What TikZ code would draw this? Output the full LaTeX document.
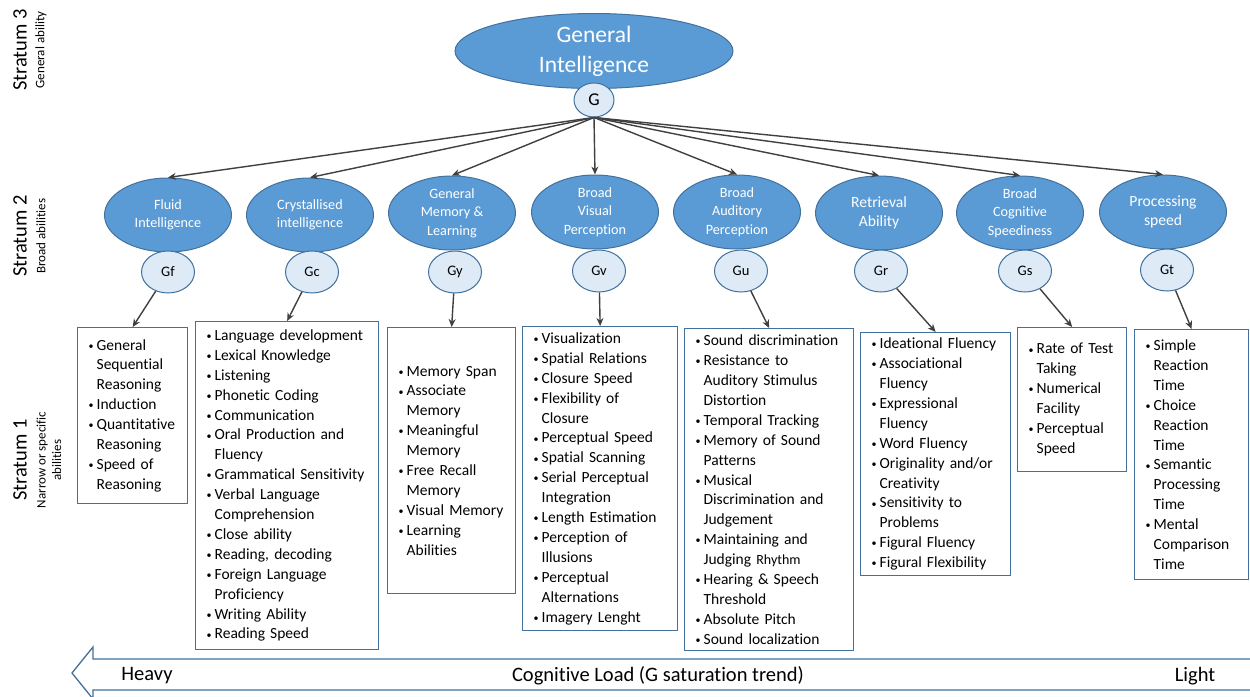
\documentclass[tikz,border=0pt]{standalone}
\usepackage{fontspec}
\setmainfont{Carlito}[Ligatures=NoCommon]
\usetikzlibrary{arrows.meta,shapes.geometric}
\definecolor{ellfill}{HTML}{5B9BD5}
\definecolor{bord}{HTML}{41719C}
\definecolor{circfill}{HTML}{DEEBF7}
\definecolor{arr}{HTML}{404040}
\newcommand\bi[1]{\makebox[8pt][l]{\raisebox{0.8pt}{\fontsize{10}{10}\selectfont\textbullet}}#1}
\newcommand\ct[1]{\hspace*{8pt}#1}
\tikzset{
  bigell/.style={ellipse, fill=ellfill, draw=bord, line width=1pt, minimum width=278pt, minimum height=75pt, inner sep=0pt, text=white, align=center, font=\fontsize{23.5}{30}\selectfont},
  ell/.style={ellipse, fill=ellfill, draw=bord, line width=1pt, minimum width=127pt, minimum height=74pt, inner sep=0pt, text=white, align=center, font=\fontsize{14.2}{18.3}\selectfont},
  ellbig/.style={ell, font=\fontsize{15.6}{19.5}\selectfont},
  circ/.style={ellipse, fill=circfill, draw=bord, line width=1pt, minimum width=53pt, minimum height=42pt, inner sep=0pt, font=\fontsize{14.5}{16}\selectfont},
  gcirc/.style={circ, minimum width=40pt, minimum height=34pt, font=\fontsize{18}{20}\selectfont},
  conn/.style={draw=arr, line width=1.4pt, -{Stealth[length=8pt,width=7pt]}},
  listbox/.style={draw=bord, line width=1.3pt, fill=white, anchor=north west, inner xsep=11pt, inner ysep=0pt, align=left, font=\fontsize{15.5}{19.9}\selectfont},
  strat/.style={rotate=90, inner sep=0pt, font=\fontsize{20.5}{22}\selectfont},
  stratsub/.style={rotate=90, inner sep=0pt, align=center, font=\fontsize{13}{15.5}\selectfont},
  loadtxt/.style={inner sep=0pt, font=\fontsize{20.5}{22}\selectfont}
}
\begin{document}
\begin{tikzpicture}[x=1pt,y=-1pt]
\path[use as bounding box] (0,0) rectangle (1250,696);
\clip (0,0) rectangle (1250,696);

% Stratum labels
\node[strat] (s3) at (20,50) {Stratum 3};
\node[stratsub] (s3b) at (41,50) {General ability};
\node[strat] (s2) at (20,236) {Stratum 2};
\node[stratsub] (s2b) at (41,236) {Broad abilities};
\node[strat] (s1) at (20,460) {Stratum 1};
\node[stratsub] (s1b) at (49,460) {Narrow or specific\\abilities};

% General intelligence
\node[bigell] (GI) at (594,51) {General\\Intelligence};
\node[gcirc] (G) at (594,100) {G};

% Broad abilities
\node[ell] (e1) at (168,215) {Fluid\\Intelligence};
\node[ell] (e2) at (310,215) {Crystallised\\intelligence};
\node[ell] (e3) at (452,213) {General\\Memory \&\\Learning};
\node[ell] (e4) at (595,212) {Broad\\Visual\\Perception};
\node[ell] (e5) at (737,212) {Broad\\Auditory\\Perception};
\node[ellbig] (e6) at (879,213) {Retrieval\\Ability};
\node[ell] (e7) at (1020,213) {Broad\\Cognitive\\Speediness};
\node[ellbig] (e8) at (1163,212) {Processing\\speed};

\node[circ] (c1) at (168,272) {Gf};
\node[circ] (c2) at (312,272) {Gc};
\node[circ] (c3) at (455,272) {Gy};
\node[circ] (c4) at (599,271) {Gv};
\node[circ] (c5) at (741,271) {Gu};
\node[circ] (c6) at (881,271) {Gr};
\node[circ] (c7) at (1025,271) {Gs};
\node[circ] (c8) at (1167,270) {Gt};

% connectors from G
\foreach \e in {e1,e2,e3,e4,e5,e6,e7,e8}{
  \draw[conn] (G.south) -- (\e.north);
}

% Narrow abilities boxes
\node[listbox, text width=88pt, minimum width=110pt, minimum height=176pt] (b1) at (77,327)
 {\bi{General}\\\ct{Sequential}\\\ct{Reasoning}\\\bi{Induction}\\\bi{Quantitative}\\\ct{Reasoning}\\\bi{Speed of}\\\ct{Reasoning}};
\node[listbox, text width=161pt, minimum width=183pt, minimum height=328pt] (b2) at (195,321)
 {\bi{Language development}\\\bi{Lexical Knowledge}\\\bi{Listening}\\\bi{Phonetic Coding}\\\bi{Communication}\\\bi{Oral Production and}\\\ct{Fluency}\\\bi{Grammatical Sensitivity}\\\bi{Verbal Language}\\\ct{Comprehension}\\\bi{Close ability}\\\bi{Reading, decoding}\\\bi{Foreign Language}\\\ct{Proficiency}\\\bi{Writing Ability}\\\bi{Reading Speed}};
\node[listbox, text width=106pt, minimum width=128pt, minimum height=266pt] (b3) at (387,327)
 {\bi{Memory Span}\\\bi{Associate}\\\ct{Memory}\\\bi{Meaningful}\\\ct{Memory}\\\bi{Free Recall}\\\ct{Memory}\\\bi{Visual Memory}\\\bi{Learning}\\\ct{Abilities}};
\node[listbox, text width=133pt, minimum width=155pt, minimum height=304pt] (b4) at (522,326)
 {\bi{Visualization}\\\bi{Spatial Relations}\\\bi{Closure Speed}\\\bi{Flexibility of}\\\ct{Closure}\\\bi{Perceptual Speed}\\\bi{Spatial Scanning}\\\bi{Serial Perceptual}\\\ct{Integration}\\\bi{Length Estimation}\\\bi{Perception of}\\\ct{Illusions}\\\bi{Perceptual}\\\ct{Alternations}\\\bi{Imagery Lenght}};
\node[listbox, text width=147pt, minimum width=169pt, minimum height=322pt] (b5) at (684,328)
 {\bi{Sound discrimination}\\\bi{Resistance to}\\\ct{Auditory Stimulus}\\\ct{Distortion}\\\bi{Temporal Tracking}\\\bi{Memory of Sound}\\\ct{Patterns}\\\bi{Musical}\\\ct{Discrimination and}\\\ct{Judgement}\\\bi{Maintaining and}\\\ct{Judging {\fontsize{14}{19.9}\selectfont Rhythm}}\\\bi{Hearing \& Speech}\\\ct{Threshold}\\\bi{Absolute Pitch}\\\bi{Sound localization}};
\node[listbox, text width=128pt, minimum width=150pt, minimum height=243pt] (b6) at (860,332)
 {\bi{Ideational Fluency}\\\bi{Associational}\\\ct{Fluency}\\\bi{Expressional}\\\ct{Fluency}\\\bi{Word Fluency}\\\bi{Originality and/or}\\\ct{Creativity}\\\bi{Sensitivity to}\\\ct{Problems}\\\bi{Figural Fluency}\\\bi{Figural Flexibility}};
\node[listbox, text width=87pt, minimum width=109pt, minimum height=144pt] (b7) at (1017,327)
 {\bi{Rate of Test}\\\ct{Taking}\\\bi{Numerical}\\\ct{Facility}\\\bi{Perceptual}\\\ct{Speed}};
\node[listbox, text width=92pt, minimum width=114pt, minimum height=250pt] (b8) at (1134,329)
 {\bi{Simple}\\\ct{Reaction}\\\ct{Time}\\\bi{Choice}\\\ct{Reaction}\\\ct{Time}\\\bi{Semantic}\\\ct{Processing}\\\ct{Time}\\\bi{Mental}\\\ct{Comparison}\\\ct{Time}};

% connectors to boxes
\foreach \i in {1,...,8}{
  \draw[conn] (c\i) -- (b\i.north);
}

% Cognitive load arrow
\coordinate (tip) at (72,673);
\draw[draw=bord, line width=1.3pt, fill=white]
  (tip) -- (93,647) -- (93,659) -- (1262,659) -- (1262,690) -- (93,690) -- (93,699) -- cycle;
\node[loadtxt] (heavy) at (147,676) {Heavy};
\node[loadtxt] (load) at (658,676) {Cognitive Load (G saturation trend)};
\node[loadtxt] (light) at (1195,676) {Light};
\end{tikzpicture}
\end{document}
